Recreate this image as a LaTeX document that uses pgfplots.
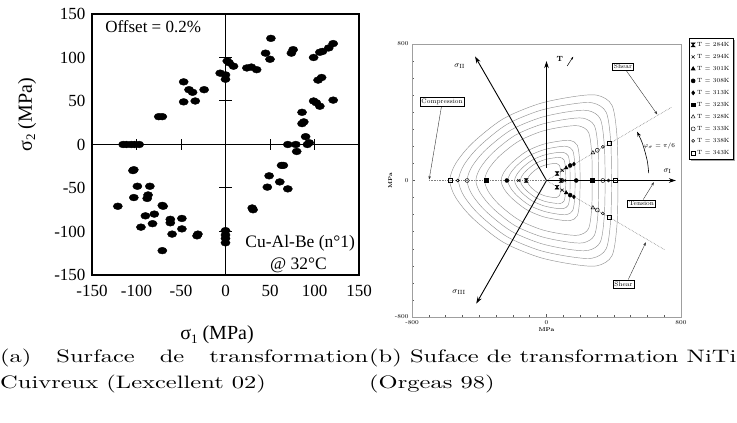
\documentclass[border=0pt]{standalone}
\usepackage{pgfplots}
\pgfplotsset{compat=1.18}
\usepackage{fontspec}
\usepackage{graphicx}
\usetikzlibrary{arrows.meta,shadows}
\newfontfamily\timesf{Liberation Serif}

% filled hourglass mark for T = 284K
\pgfdeclareplotmark{hourglass}{%
  \pgfpathmoveto{\pgfqpoint{-\pgfplotmarksize}{\pgfplotmarksize}}%
  \pgfpathlineto{\pgfqpoint{\pgfplotmarksize}{\pgfplotmarksize}}%
  \pgfpathlineto{\pgfqpoint{-\pgfplotmarksize}{-\pgfplotmarksize}}%
  \pgfpathlineto{\pgfqpoint{\pgfplotmarksize}{-\pgfplotmarksize}}%
  \pgfpathclose
  \pgfusepathqfillstroke}

% caption text: 10pt design, enlarged (wider than tall, as in the scan)
\newcommand\capbox[1]{\scalebox{2.45}[1.8]{\fontsize{10}{12}\selectfont #1}}

\begin{document}
\begin{tikzpicture}
\useasboundingbox (0,0) rectangle (737pt,423pt);

% ---------------- (a) Cu-Al-Be ----------------
\begin{axis}[
    at={(92pt,148pt)}, anchor=south west,
    scale only axis, width=267pt, height=261pt,
    xmin=-150, xmax=150, ymin=-150, ymax=150,
    xtick={-150,-100,...,150}, ytick={-150,-100,...,150},
    xticklabels={-150,-100,-50,0,50,100,150},
    yticklabels={-150,-100,-50,0,50,100,150},
    major tick length=0pt,
    ticklabel style={font=\timesf\fontsize{17}{17}\selectfont},
    xticklabel style={yshift=-7pt},
    yticklabel style={xshift=-3pt},
    axis line style={line width=1.1pt},
    clip=false,
  ]
  \draw[line width=1pt] (-150,0) -- (150,0);
  \draw[line width=1pt] (0,-150) -- (0,150);
  \pgfplotsinvokeforeach{-100,-50,50,100}{
    \draw[line width=1pt] (#1,-6) -- (#1,6);
    \draw[line width=1pt] (-7,#1) -- (7,#1);
  }
  \addplot[only marks, mark=*, mark size=4pt, mark options={xscale=1.15,yscale=0.85}, black]
  coordinates {
    (-47,72) (-41,63) (-37,60) (-47,49) (-34,50) (-24,63) (-75,32) (-71,32)
    (-6,82) (0,75) (0,80) (4,94) (9,90) (2,96)
    (24,88) (29,89) (35,86) (51,122) (45,105) (50,98) (74,105) (76,109)
    (99,100) (106,106) (109,107) (116,111) (121,116) (108,77) (104,74)
    (99,50) (102,48) (106,44) (121,51) (86,37) (88,26) (86,24)
    (70,0) (79,0) (80,-8) (90,9) (94,2) (92,0)
    (63,-24) (65,-24) (49,-36) (47,-49) (61,-43) (70,-51) (31,-75) (30,-73)
    (-115,0) (-111,0) (-106,0) (-102,0) (-97,0) (-104,-30) (-103,-29)
    (-99,-48) (-85,-48) (-103,-61) (-88,-62) (-87,-58) (-121,-71)
    (-90,-82) (-80,-80) (-82,-91) (-95,-95) (-70,-71) (-71,-70)
    (-62,-86) (-62,-90) (-49,-85) (-49,-97) (-60,-103) (-32,-105) (-31,-103)
    (-71,-122) (0,-99) (0,-104) (0,-108) (0,-113)
  };
  \node[anchor=west, font=\timesf\fontsize{17}{17}\selectfont] at (-139,135) {Offset = 0.2\%};
  \node[font=\timesf\fontsize{17.5}{18}\selectfont] at (84,-114) {Cu-Al-Be (n°1)};
  \node[font=\timesf\fontsize{17.5}{18}\selectfont] at (82,-139) {@ 32°C};
\end{axis}
\node[rotate=90, font=\timesf\fontsize{20}{20}\selectfont] at (27pt,308pt) {σ\raisebox{-0.35ex}{\fontsize{13}{13}\selectfont 2} (MPa)};
\node[font=\timesf\fontsize{20}{20}\selectfont] at (217pt,88pt) {σ\raisebox{-0.35ex}{\fontsize{13}{13}\selectfont 1} (MPa)};

% ---------------- (b) NiTi ----------------
\begin{axis}[
    at={(412pt,106pt)}, anchor=south west,
    scale only axis, width=269pt, height=273pt,
    xmin=-800, xmax=800, ymin=-800, ymax=800,
    xtick={-800,0,800}, ytick={-800,0,800},
    xticklabels={-800,0,800}, yticklabels={-800,0,800},
    minor xtick={-700,-600,...,700}, minor ytick={-700,-600,...,700},
    tick pos=left, tick align=inside,
    major tick length=3pt, minor tick length=2pt,
    every tick/.style={gray!70!black, line width=0.4pt},
    axis line style={gray!75, line width=0.5pt},
    ticklabel style={font=\fontsize{6}{7}\selectfont},
    xlabel={MPa}, ylabel={MPa},
    label style={font=\bfseries\fontsize{5.5}{6}\selectfont},
    xlabel style={yshift=4pt}, ylabel style={yshift=-4pt},
    clip=false,
    legend style={at={(1.03,1.022)}, anchor=north west,
      font=\fontsize{6}{7}\selectfont, draw=black, line width=0.6pt, fill=white,
      drop shadow={shadow xshift=1.3pt, shadow yshift=-1.3pt, fill=black!70},
      row sep=2.4pt, inner sep=1.8pt, cells={anchor=west}},
    legend image code/.code={\draw[mark repeat=2,mark phase=2,#1] plot coordinates {(0cm,0cm) (0.1cm,0cm) (0.2cm,0cm)};},
  ]
  % iso-temperature transformation surfaces
  \addplot[gray!85, line width=0.45pt, smooth, forget plot] coordinates {(425,0) (420,250) (390,440) (300,500) (150,490) (-50,448) (-260,360) (-440,220) (-540,100) (-575,0) (-540,-100) (-440,-220) (-260,-360) (-50,-448) (150,-490) (300,-500) (390,-440) (420,-250) (425,0)};
  \addplot[gray!85, line width=0.45pt, smooth, forget plot] coordinates {(387,0) (382,228) (355,400) (273,455) (137,446) (-46,408) (-237,328) (-400,200) (-491,91) (-523,0) (-491,-91) (-400,-200) (-237,-328) (-46,-408) (137,-446) (273,-455) (355,-400) (382,-228) (387,0)};
  \addplot[gray!85, line width=0.45pt, smooth, forget plot] coordinates {(349,0) (344,205) (320,361) (246,410) (123,402) (-41,367) (-213,295) (-361,180) (-443,82) (-472,0) (-443,-82) (-361,-180) (-213,-295) (-41,-367) (123,-402) (246,-410) (320,-361) (344,-205) (349,0)};
  \addplot[gray!85, line width=0.45pt, smooth, forget plot] coordinates {(310,0) (307,183) (285,321) (219,365) (110,358) (-37,327) (-190,263) (-321,161) (-394,73) (-420,0) (-394,-73) (-321,-161) (-190,-263) (-37,-327) (110,-358) (219,-365) (285,-321) (307,-183) (310,0)};
  \addplot[gray!85, line width=0.45pt, smooth, forget plot] coordinates {(272,0) (269,160) (250,282) (192,320) (96,314) (-32,287) (-166,230) (-282,141) (-346,64) (-368,0) (-346,-64) (-282,-141) (-166,-230) (-32,-287) (96,-314) (192,-320) (250,-282) (269,-160) (272,0)};
  \addplot[gray!85, line width=0.45pt, smooth, forget plot] coordinates {(200,0) (197,118) (183,207) (141,235) (71,230) (-24,211) (-122,169) (-207,103) (-254,47) (-270,0) (-254,-47) (-207,-103) (-122,-169) (-24,-211) (71,-230) (141,-235) (183,-207) (197,-118) (200,0)};
  \addplot[gray!85, line width=0.45pt, smooth, forget plot] coordinates {(170,0) (168,100) (156,176) (120,200) (60,196) (-20,179) (-104,144) (-176,88) (-216,40) (-230,0) (-216,-40) (-176,-88) (-104,-144) (-20,-179) (60,-196) (120,-200) (156,-176) (168,-100) (170,0)};
  \addplot[gray!85, line width=0.45pt, smooth, forget plot] coordinates {(140,0) (139,83) (129,145) (99,165) (50,162) (-17,148) (-86,119) (-145,73) (-178,33) (-190,0) (-178,-33) (-145,-73) (-86,-119) (-17,-148) (50,-162) (99,-165) (129,-145) (139,-83) (140,0)};
  \addplot[gray!85, line width=0.45pt, smooth, forget plot] coordinates {(115,0) (113,68) (105,119) (81,135) (41,132) (-14,121) (-70,97) (-119,59) (-146,27) (-155,0) (-146,-27) (-119,-59) (-70,-97) (-14,-121) (41,-132) (81,-135) (105,-119) (113,-68) (115,0)};
  \addplot[gray!85, line width=0.45pt, smooth, forget plot] coordinates {(85,0) (84,50) (78,88) (60,100) (30,98) (-10,90) (-52,72) (-88,44) (-108,20) (-115,0) (-108,-20) (-88,-44) (-52,-72) (-10,-90) (30,-98) (60,-100) (78,-88) (84,-50) (85,0)};

  % loading directions
  \addplot[gray, densely dotted, line width=0.6pt, forget plot] coordinates {(0,0) (-700,0)};
  \addplot[gray, densely dotted, line width=0.6pt, forget plot] coordinates {(0,0) (745,430)};
  \addplot[gray, densely dotted, line width=0.6pt, forget plot] coordinates {(0,0) (705,-407)};

  % principal stress axes
  \addplot[black, line width=0.9pt, -{Stealth[length=7pt,width=4.5pt]}, forget plot] coordinates {(0,0) (770,0)};
  \addplot[black, line width=0.9pt, -{Stealth[length=7pt,width=4.5pt]}, forget plot] coordinates {(0,0) (-425,727)};
  \addplot[black, line width=0.9pt, -{Stealth[length=7pt,width=4.5pt]}, forget plot] coordinates {(0,0) (-418,-722)};
  \addplot[black, line width=0.9pt, -{Stealth[length=7pt,width=4.5pt]}, forget plot] coordinates {(0,74) (0,700)};
  \addplot[black, line width=0.5pt, -{Stealth[length=3pt,width=2pt]}, forget plot] coordinates {(123,671) (159,726)};

  % annotation arrows
  \addplot[black!80, line width=0.4pt, -{Stealth[length=3.5pt,width=2.5pt]}, forget plot] coordinates {(-625,432) (-698,6)};
  \addplot[black!80, line width=0.4pt, -{Stealth[length=3.5pt,width=2.5pt]}, forget plot] coordinates {(476,642) (659,387)};
  \addplot[black!80, line width=0.4pt, -{Stealth[length=3.5pt,width=2.5pt]}, forget plot] coordinates {(575,-112) (639,-10)};
  \addplot[black!80, line width=0.4pt, -{Stealth[length=3.5pt,width=2.5pt]}, forget plot] coordinates {(486,-581) (591,-362)};
  \addplot[black, line width=0.6pt, smooth, -{Stealth[length=5pt,width=3.5pt]}, forget plot] coordinates {(608,43) (601,106) (586,168) (566,229) (539,286)};

  % measured points
  \addplot[only marks, mark=hourglass, mark size=1.9pt, black] coordinates {(-121,0) (87,0) (63,41) (63,-39)};
  \addplot[only marks, mark=x, mark size=2.1pt, black, line width=0.55pt] coordinates {(-165,0) (105,0) (93,60) (93,-57)};
  \addplot[only marks, mark=triangle*, mark size=2.2pt, black] coordinates {(117,74) (117,-72)};
  \addplot[only marks, mark=*, mark size=2pt, black] coordinates {(-236,0) (177,0) (141,88) (141,-86)};
  \addplot[only marks, mark=diamond*, mark size=2pt, black] coordinates {(163,96) (163,-96)};
  \addplot[only marks, mark=square*, mark size=1.9pt, black] coordinates {(-359,0) (272,0)};
  \addplot[only marks, mark=triangle, mark size=2.2pt, black, line width=0.45pt] coordinates {(276,162) (276,-160)};
  \addplot[only marks, mark=o, mark size=2pt, black, line width=0.45pt] coordinates {(-472,0) (335,0) (302,177) (302,-173)};
  \addplot[only marks, mark=o, mark size=1.5pt, black, line width=0.45pt] coordinates {(-528,0) (369,0) (335,197) (335,-193)};
  \addplot[only marks, mark=square, mark size=1.9pt, black, line width=0.45pt] coordinates {(-573,0) (408,0) (375,220) (375,-214)};
  \legend{T = 284K, T = 294K, T = 301K, T = 308K, T = 313K, T = 323K, T = 328K, T = 333K, T = 338K, T = 343K}

  % labels
  \node[font=\fontsize{8}{9}\selectfont] at (-516,671) {$\sigma_{\mathrm{II}}$};
  \node[font=\fontsize{8}{9}\selectfont] at (-520,-654) {$\sigma_{\mathrm{III}}$};
  \node[font=\fontsize{8}{9}\selectfont] at (720,55) {$\sigma_{\mathrm{I}}$};
  \node[font=\bfseries\fontsize{7.5}{8}\selectfont] at (79,712) {T};
  \node[font=\fontsize{6.5}{7}\selectfont] at (671,202) {$\varphi_\sigma = \pi/6$};
  \node[draw, line width=0.5pt, fill=white, inner sep=1.5pt, font=\fontsize{6.5}{7}\selectfont] at (455,667) {Shear};
  \node[draw, line width=0.5pt, fill=white, inner sep=1.5pt, font=\fontsize{6.5}{7}\selectfont] at (-621,462) {Compression};
  \node[draw, line width=0.5pt, fill=white, inner sep=1.5pt, font=\fontsize{6.5}{7}\selectfont] at (565,-135) {Tension};
  \node[draw, line width=0.5pt, fill=white, inner sep=1.5pt, font=\fontsize{6.5}{7}\selectfont] at (458,-608) {Shear};
\end{axis}

% ---------------- captions ----------------
\node[anchor=base west, inner sep=0pt] at (0pt,60pt)
  {\capbox{\makebox[150.2pt][s]{(a) Surface de transformation}}};
\node[anchor=base west, inner sep=0pt] at (0pt,34pt)
  {\capbox{Cuivreux (Lexcellent 02)}};
\node[anchor=base west, inner sep=0pt] at (369pt,60pt)
  {\capbox{(b) Suface de transformation NiTi}};
\node[anchor=base west, inner sep=0pt] at (369pt,34pt)
  {\capbox{(Orgeas 98)}};
\end{tikzpicture}
\end{document}
